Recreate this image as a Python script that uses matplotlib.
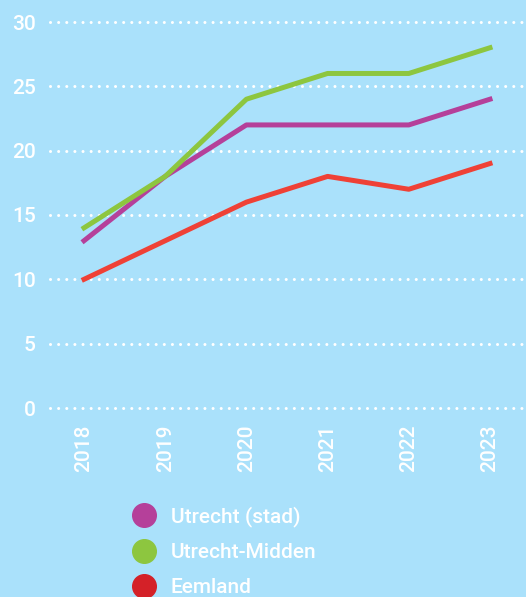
import matplotlib.pyplot as plt
from matplotlib.lines import Line2D

years = [2018, 2019, 2020, 2021, 2022, 2023]
utrecht_stad = [13, 18, 22, 22, 22, 24]
utrecht_midden = [14, 18, 24, 26, 26, 28]
eemland = [10, 13, 16, 18, 17, 19]
y_ticks = [0, 5, 10, 15, 20, 25, 30]

bg = '#aae1fb'
purple = '#b5409a'
green = '#8dc63f'
red = '#ef4136'
red_legend = '#d42128'

plt.rcParams['font.family'] = ['Roboto', 'DejaVu Sans']
plt.rcParams['font.weight'] = 'medium'

W, H = 526, 597
fig = plt.figure(figsize=(W / 100, H / 100), dpi=100, facecolor=bg)
# axes: x from px 48 to 526, y=0 at px 408, y=30 at px 22
ax = fig.add_axes([48 / W, 1 - 408 / H, 478 / W, (408 - 22) / H])
ax.set_facecolor(bg)
ax.set_xlim(2018 - 36 / 81.2, 2018 + (478 - 36) / 81.2)
ax.set_ylim(0, 30)

x0, x1 = ax.get_xlim()
for v in y_ticks:
    ax.plot([x0 + 0.02, x1], [v, v], color='white',
            linewidth=2.2, linestyle=(0, (0.01, 2.65)), dash_capstyle='round',
            clip_on=False, zorder=1)

ax.plot(years, eemland, color=red, linewidth=3.6, zorder=3)
ax.plot(years, utrecht_stad, color=purple, linewidth=3.6, zorder=4)
ax.plot(years, utrecht_midden, color=green, linewidth=3.6, zorder=5)

for s in ax.spines.values():
    s.set_visible(False)
ax.set_yticks(y_ticks)
ax.set_xticks(years)
ax.set_xticklabels([str(y) for y in years], rotation=90, va='top')
ax.tick_params(axis='both', length=0, colors='white', labelsize=15)
ax.tick_params(axis='y', pad=9)
ax.tick_params(axis='x', pad=12)

handles = [
    Line2D([], [], linestyle='none', marker='o', markersize=17, color=purple, label='Utrecht (stad)'),
    Line2D([], [], linestyle='none', marker='o', markersize=17, color=green, label='Utrecht-Midden'),
    Line2D([], [], linestyle='none', marker='o', markersize=17, color=red_legend, label='Eemland'),
]
leg = fig.legend(handles=handles, loc='upper left', bbox_to_anchor=(123 / W, 1 - 506 / H),
                 frameon=False, fontsize=15, labelspacing=0.78, handletextpad=0.3,
                 borderaxespad=0, borderpad=0)
for t in leg.get_texts():
    t.set_color('white')

fig.savefig('out.png', dpi=100, facecolor=bg)
